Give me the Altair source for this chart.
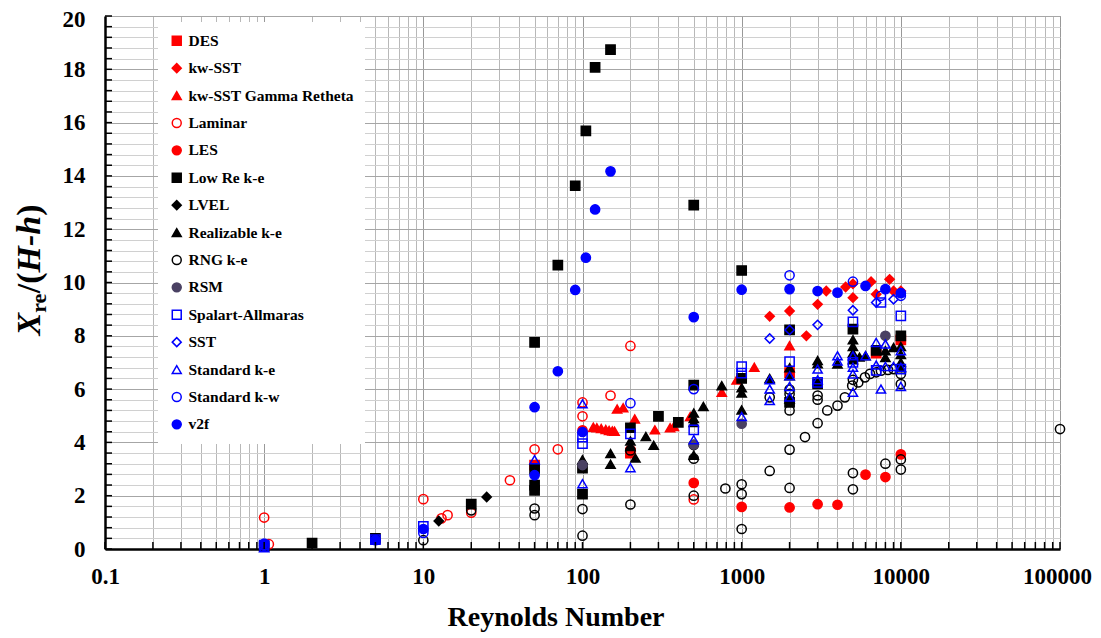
import altair as alt
import pandas as pd

# ---------------- data (Reynolds number, Xre/(H-h)) ----------------
series_names = ["DES", "kw-SST", "kw-SST Gamma Retheta", "Laminar", "LES",
                "Low Re k-e", "LVEL", "Realizable k-e", "RNG k-e", "RSM",
                "Spalart-Allmaras", "SST", "Standard k-e", "Standard k-w", "v2f"]
series_shapes = ["square", "diamond", "triangle-up", "circle", "circle",
                 "square", "diamond", "triangle-up", "circle", "circle",
                 "square", "diamond", "triangle-up", "circle", "circle"]
series_strokes = ["#ff0000", "#ff0000", "#ff0000", "#ff0000", "#ff0000",
                  "#000000", "#000000", "#000000", "#000000", "#4a4163",
                  "#0000ff", "#0000ff", "#0000ff", "#0000ff", "#0000ff"]
series_fills = ["#ff0000", "#ff0000", "#ff0000", "transparent", "#ff0000",
                "#000000", "#000000", "#000000", "transparent", "#4a4163",
                "transparent", "transparent", "transparent", "transparent", "#0000ff"]

des = [(50, 3.15), (200, 3.6), (2000, 6.62), (7000, 7.35), (10000, 7.85)]
kw_sst = [(1500, 8.73), (2000, 8.93), (2550, 8.0), (3000, 9.18), (3400, 9.68),
          (4500, 9.83), (5000, 9.95), (5000, 9.43), (6500, 10.03), (7000, 9.56),
          (8500, 10.12), (9000, 9.68), (10000, 9.68)]
kw_sst_gamma = [(117, 4.57), (123, 4.55), (131, 4.52), (140, 4.48), (147, 4.45),
                (154, 4.43), (159, 4.42), (165, 5.25), (180, 5.3), (213, 4.88),
                (285, 4.47), (355, 4.55), (375, 4.6), (475, 4.97), (750, 5.88),
                (930, 6.34), (1200, 6.82), (2000, 7.63)]
laminar = [(1, 1.18), (1.07, 0.18), (10, 1.87), (13, 1.15), (14.2, 1.27),
           (20, 1.36), (35, 2.58), (50, 3.74), (70, 3.74), (100, 5.5),
           (100, 4.98), (150, 5.76), (200, 7.62), (500, 1.86)]
les = [(100, 4.45), (200, 3.72), (500, 2.48), (1000, 1.58), (2000, 1.56),
       (3000, 1.68), (4000, 1.66), (6000, 2.79), (8000, 2.7), (10000, 3.55)]
low_re = [(1, 0.1), (2, 0.22), (5, 0.4), (20, 1.68), (50, 7.75), (50, 3.0),
          (50, 2.4), (50, 2.2), (70, 10.65), (90, 13.63), (105, 15.69),
          (120, 18.07), (150, 18.74), (100, 3.03), (100, 2.06), (200, 4.55),
          (300, 4.98), (400, 4.75), (500, 12.9), (500, 6.15), (1000, 10.45),
          (1000, 6.4), (2000, 8.22), (2000, 5.5), (3000, 6.2), (5000, 8.25),
          (7000, 7.45), (10000, 8.0)]
lvel = [(12.5, 1.05), (25, 1.95)]
realizable = [(100, 3.35), (150, 3.58), (150, 3.18), (200, 4.05), (200, 3.85),
              (215, 3.41), (250, 4.22), (280, 3.89), (500, 5.1), (500, 4.9),
              (500, 4.75), (500, 3.52), (575, 5.35), (750, 6.13), (1000, 6.05),
              (1000, 5.85), (1000, 5.22), (1500, 6.4), (2000, 6.8), (2000, 6.5),
              (2000, 5.63), (3000, 7.07), (3000, 6.95), (4000, 6.94), (5000, 7.85),
              (5000, 7.6), (5000, 7.35), (5000, 7.1), (5500, 7.2), (6000, 7.25),
              (8000, 7.44), (8000, 7.19), (9000, 7.56), (10000, 7.6), (10000, 7.3),
              (10000, 7.0), (10000, 6.8)]
rng = [(10, 0.33), (20, 1.45), (50, 1.52), (50, 1.27), (100, 1.5), (100, 0.5),
       (200, 3.7), (200, 1.67), (500, 3.9), (500, 3.39), (500, 2.0), (790, 2.27),
       (1000, 2.43), (1000, 2.06), (1000, 0.75), (1500, 5.69), (1500, 2.93),
       (2000, 5.98), (2000, 5.82), (2000, 5.2), (2000, 3.73), (2000, 2.29),
       (2500, 4.2), (3000, 5.76), (3000, 5.6), (3000, 4.72), (3450, 5.2),
       (4000, 5.38), (4450, 5.69), (4950, 6.13), (5000, 6.35), (5000, 2.85),
       (5000, 2.24), (5400, 6.25), (5950, 6.44), (6400, 6.57), (7000, 6.63),
       (7500, 6.69), (8300, 6.72), (9000, 6.75), (10000, 6.57), (10000, 6.19),
       (8000, 3.2), (10000, 3.36), (10000, 2.98), (100000, 4.5)]
rsm = [(100, 3.15), (500, 3.92), (1000, 4.7), (8000, 8.0)]
spalart = [(1, 0.15), (5, 0.35), (10, 0.85), (100, 4.2), (100, 3.95), (200, 4.32),
           (500, 4.47), (1000, 6.84), (1000, 6.6), (2000, 7.03), (3000, 6.25),
           (5000, 8.52), (5000, 7.0), (7000, 6.7), (7500, 9.25), (10000, 8.75),
           (10000, 6.75)]
sst = [(1500, 7.9), (2000, 8.22), (3000, 8.41), (5000, 8.96), (7000, 9.25),
       (9000, 9.37)]
std_ke = [(1, 0.05), (50, 3.35), (100, 5.45), (100, 2.45), (200, 3.05), (500, 4.1),
          (1000, 4.97), (1500, 6.35), (1500, 6.0), (1500, 5.57), (2000, 6.5),
          (2000, 6.1), (2000, 5.7), (3000, 6.75), (3000, 6.35), (4000, 7.25),
          (4000, 7.05), (5000, 7.25), (5000, 6.82), (5000, 6.57), (5000, 5.88),
          (6000, 7.25), (7000, 7.75), (7000, 6.9), (7500, 6.0), (8000, 7.69),
          (8000, 6.85), (9000, 6.85), (10000, 7.44), (10000, 6.82), (10000, 6.1)]
std_kw = [(1, 0.12), (10, 0.6), (200, 5.47), (500, 6.0), (2000, 10.27),
          (5000, 10.03), (7500, 9.5), (10000, 9.5)]
v2f = [(1, 0.2), (5, 0.33), (10, 0.75), (50, 5.32), (50, 2.77), (70, 6.67),
       (90, 9.72), (105, 10.93), (120, 12.74), (150, 14.17), (100, 4.39),
       (500, 8.7), (1000, 9.73), (2000, 9.75), (3000, 9.68), (4000, 9.62),
       (6000, 9.87), (8000, 9.75), (10000, 9.6)]

all_series = [des, kw_sst, kw_sst_gamma, laminar, les, low_re, lvel, realizable,
              rng, rsm, spalart, sst, std_ke, std_kw, v2f]

x_tick_values = [m * 10.0 ** k for k in range(-1, 5) for m in range(1, 10)] + [100000.0]
y_tick_values = [round(i * 0.4, 1) for i in range(51)]

rows = []
for name, pts in zip(series_names, all_series):
    for re_, xr in pts:
        rows.append({"Model": name, "Re": re_, "Xr": xr})
df = pd.DataFrame(rows)

# ---------------- chart ----------------
W, H = 955, 533
FONT = "Liberation Serif"

x_scale = alt.Scale(type="log", domain=[0.1, 100000], nice=False)
y_scale = alt.Scale(domain=[0, 20], nice=False, zero=False)

decade_test = "abs(log(datum.value)/LN10 - round(log(datum.value)/LN10)) < 0.001"
even_test = "abs(datum.value/2 - round(datum.value/2)) < 0.001"

x_axis = alt.Axis(
    values=x_tick_values, title=None, grid=True,
    gridColor={"condition": {"test": decade_test, "value": "#999999"}, "value": "#b8b8b8"},
    gridWidth=1, ticks=False, domainColor="black", domainWidth=2.5,
    labelExpr=decade_test + " ? format(datum.value, '~g') : ''",
    labelOffset={"condition": {"test": "datum.value >= 99999", "value": -3}, "value": 0},
    labelFont=FONT, labelFontWeight="bold", labelFontSize=23, labelColor="black",
    labelPadding=16, labelOverlap=False, labelFlush=False, labelBound=False,
)
y_axis = alt.Axis(
    values=y_tick_values, title=None, grid=True,
    gridColor={"condition": {"test": even_test, "value": "#a6a6a6"}, "value": "#d0d0d0"},
    gridWidth=1, ticks=False, domainColor="black", domainWidth=2.5,
    labelExpr=even_test + " ? format(datum.value, 'd') : ''",
    labelOffset={"condition": {"test": "datum.value >= 19.9", "value": 3}, "value": 0},
    labelFont=FONT, labelFontWeight="bold", labelFontSize=23, labelColor="black",
    labelPadding=20, labelOverlap=False, labelFlush=False, labelBound=False,
)

legend = alt.Legend(
    title=None, orient="none", legendX=53, legendY=6, fillColor="white",
    padding=11, labelFont=FONT, labelFontWeight="bold", labelFontSize=15.5,
    labelColor="black", symbolSize=80, symbolStrokeWidth=1.5, rowPadding=10.4,
    labelOffset=4, symbolOpacity=1, labelLimit=0,
)

points = alt.Chart(df).mark_point(size=85, strokeWidth=1.5, opacity=1).encode(
    x=alt.X("Re:Q", scale=x_scale, axis=x_axis),
    y=alt.Y("Xr:Q", scale=y_scale, axis=y_axis),
    shape=alt.Shape("Model:N", scale=alt.Scale(domain=series_names, range=series_shapes), legend=legend),
    stroke=alt.Stroke("Model:N", scale=alt.Scale(domain=series_names, range=series_strokes), legend=legend),
    fill=alt.Fill("Model:N", scale=alt.Scale(domain=series_names, range=series_fills), legend=legend),
)

xticks = alt.Chart(pd.DataFrame({"Re": x_tick_values})).mark_rule(color="black", strokeWidth=1.5).encode(
    x=alt.X("Re:Q", scale=x_scale, axis=x_axis),
    y=alt.value(H), y2=alt.value(H - 7),
)
yticks = alt.Chart(pd.DataFrame({"Xr": y_tick_values})).mark_rule(color="black", strokeWidth=1.5).encode(
    y=alt.Y("Xr:Q", scale=y_scale, axis=y_axis),
    x=alt.value(0), x2=alt.value(7),
)

one = pd.DataFrame({"k": [0]})
x_title = alt.Chart(one).mark_text(
    text="Reynolds Number", font=FONT, fontWeight="bold", fontSize=28,
    align="center", baseline="alphabetic", color="black",
).encode(x=alt.value(451), y=alt.value(610))

# y title pieces: X_re/(H-h), rotated
F = 34
SUB = 22
bx = -65  # baseline x (plot coords)
w_x = 0.667 * F
w_re = 0.888 * SUB
w_sl = 0.611 * F
w_hh = 1.667 * F
y0 = 254 + (w_x + w_re + w_sl + w_hh + 0.333 * F) / 2
pieces = [
    ("X", "italic", F, 0, 0),
    ("re", "normal", SUB, 6, w_x),
    ("/(", "normal", F, 0, w_x + w_re),
    ("H-h", "italic", F, 0, w_x + w_re + w_sl),
    (")", "normal", F, 0, w_x + w_re + w_sl + w_hh),
]
title_layers = []
for txt, style, fs, shift, off in pieces:
    title_layers.append(
        alt.Chart(one).mark_text(
            text=txt, font=FONT, fontWeight="bold", fontStyle=style, fontSize=fs,
            angle=270, align="left", baseline="alphabetic", color="black",
        ).encode(x=alt.value(bx + shift), y=alt.value(y0 - off))
    )

chart = alt.layer(points, xticks, yticks, x_title, *title_layers).properties(
    width=W, height=H,
    padding={"left": 97, "top": 8, "right": 33, "bottom": 86},
    autosize=alt.AutoSizeParams(type="none"),
).configure_view(stroke="#888888", strokeWidth=1)

chart.save("out.html", embed_options={"renderer": "svg", "actions": False})
